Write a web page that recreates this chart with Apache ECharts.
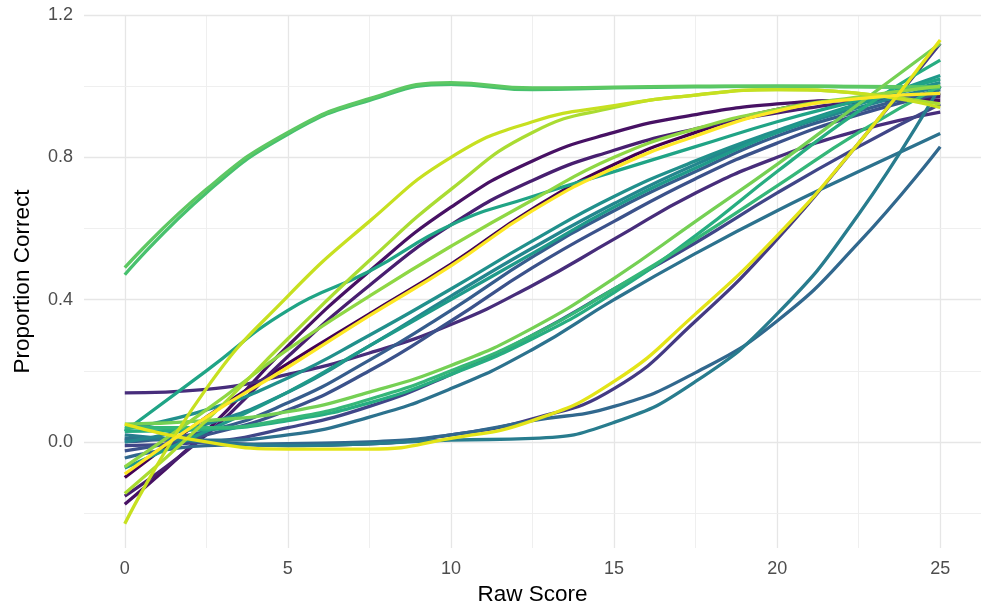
<!DOCTYPE html>
<html>
<head>
<meta charset="utf-8">
<script src="https://cdn.jsdelivr.net/npm/echarts@6/dist/echarts.min.js"></script>
<style>
  html, body { margin: 0; padding: 0; background: #ffffff; }
  #chart { width: 981px; height: 613px; }
</style>
</head>
<body>
<div id="chart"></div>
<script>
// Raw score positions at which each item's smoothed proportion correct is sampled
const rawScores = [0, 2.5, 5, 7.5, 10, 12.5, 15, 17.5, 20, 22.5, 25];

// Smoothed proportion-correct curves, one per item
const item01 = [-0.10, 0.07, 0.22, 0.36, 0.50, 0.655, 0.78, 0.87, 0.935, 0.965, 0.975];
const item02 = [-0.175, 0.03, 0.27, 0.48, 0.66, 0.79, 0.87, 0.92, 0.95, 0.96, 0.96];
const item03 = [-0.152, 0.02, 0.24, 0.44, 0.61, 0.735, 0.82, 0.88, 0.925, 0.955, 0.97];
const item04 = [0.138, 0.148, 0.19, 0.25, 0.33, 0.44, 0.57, 0.70, 0.80, 0.875, 0.927];
const item05 = [0.01, 0.0, -0.01, -0.005, 0.02, 0.065, 0.15, 0.34, 0.57, 0.84, 1.12];
const item06 = [-0.01, 0.0, 0.04, 0.10, 0.19, 0.30, 0.43, 0.56, 0.70, 0.83, 0.95];
const item07 = [-0.025, 0.02, 0.09, 0.20, 0.34, 0.49, 0.62, 0.74, 0.84, 0.92, 0.98];
const item08 = [0.0, 0.03, 0.11, 0.23, 0.37, 0.52, 0.65, 0.76, 0.86, 0.93, 0.99];
const item09 = [-0.045, -0.01, -0.005, 0.0, 0.02, 0.06, 0.10, 0.195, 0.34, 0.56, 0.83];
const item10 = [0.01, 0.005, 0.02, 0.07, 0.15, 0.26, 0.40, 0.53, 0.65, 0.76, 0.867];
const item11 = [0.02, 0.0, -0.01, -0.005, 0.005, 0.01, 0.055, 0.17, 0.36, 0.64, 1.0];
const item12 = [0.0, 0.05, 0.14, 0.27, 0.41, 0.545, 0.67, 0.78, 0.87, 0.94, 1.0];
const item13 = [0.037, 0.09, 0.18, 0.30, 0.43, 0.565, 0.69, 0.79, 0.875, 0.95, 1.01];
const item14 = [-0.073, 0.03, 0.14, 0.27, 0.40, 0.53, 0.66, 0.77, 0.87, 0.95, 1.03];
const item15 = [0.03, 0.20, 0.37, 0.48, 0.61, 0.69, 0.76, 0.83, 0.90, 0.96, 1.02];
const item16 = [0.03, 0.035, 0.06, 0.11, 0.19, 0.29, 0.42, 0.58, 0.76, 0.93, 1.073];
const item17 = [0.04, 0.04, 0.065, 0.12, 0.20, 0.30, 0.43, 0.57, 0.72, 0.87, 1.0];
const item18 = [0.47, 0.70, 0.865, 0.96, 1.005, 0.99, 0.995, 0.998, 1.0, 0.998, 0.995];
const item19 = [0.49, 0.71, 0.87, 0.965, 1.01, 0.995, 0.997, 1.0, 1.0, 0.999, 0.998];
const item20 = [0.05, 0.06, 0.085, 0.14, 0.215, 0.32, 0.46, 0.62, 0.78, 0.95, 1.12];
const item21 = [-0.07, 0.09, 0.26, 0.41, 0.55, 0.68, 0.80, 0.88, 0.935, 0.97, 1.0];
const item22 = [-0.145, 0.06, 0.29, 0.51, 0.71, 0.87, 0.94, 0.975, 0.99, 0.98, 0.95];
const item23 = [-0.23, 0.15, 0.41, 0.62, 0.80, 0.90, 0.945, 0.975, 0.99, 0.98, 0.94];
const item24 = [0.05, 0.0, -0.02, -0.02, 0.01, 0.06, 0.17, 0.36, 0.58, 0.84, 1.13];
const item25 = [-0.09, 0.07, 0.21, 0.355, 0.495, 0.65, 0.77, 0.86, 0.93, 0.965, 0.98];

const items = [item01, item02, item03, item04, item05, item06, item07, item08, item09, item10,
               item11, item12, item13, item14, item15, item16, item17, item18, item19, item20,
               item21, item22, item23, item24, item25];

// Tick labels and grid positions
const xTicks = [0, 5, 10, 15, 20, 25];
const xMinor = [2.5, 7.5, 12.5, 17.5, 22.5];
const yTicks = [0, 0.4, 0.8, 1.2];
const yMinor = [-0.2, 0.2, 0.6, 1.0];

// viridis palette, one colour per item
const viridis = ['#440154', '#471164', '#481F70', '#472D7B', '#443A83', '#404688', '#3B528B',
                 '#365D8D', '#31688E', '#2C728E', '#287C8E', '#24868E', '#21908C', '#1F9A8A',
                 '#20A486', '#27AD81', '#35B779', '#47C16E', '#5DC863', '#75D054', '#8FD744',
                 '#AADC32', '#C7E020', '#E3E418', '#FDE725'];

const gridLines = [];
xTicks.forEach(v => gridLines.push({ xAxis: v, lineStyle: { width: 1.3, color: '#E6E6E6' } }));
xMinor.forEach(v => gridLines.push({ xAxis: v, lineStyle: { width: 0.9, color: '#EDEDED' } }));
yTicks.forEach(v => gridLines.push({ yAxis: v, lineStyle: { width: 1.3, color: '#E6E6E6' } }));
yMinor.forEach(v => gridLines.push({ yAxis: v, lineStyle: { width: 0.9, color: '#EDEDED' } }));

// Background panel grid drawn beneath the curves
const series = [{
  type: 'line',
  data: [],
  silent: true,
  z: 0,
  markLine: {
    silent: true,
    z: 0,
    symbol: ['none', 'none'],
    label: { show: false },
    animation: false,
    lineStyle: { type: 'solid' },
    emphasis: { disabled: true },
    data: gridLines
  }
}];

items.forEach((vals, i) => {
  series.push({
    type: 'line',
    name: 'Item ' + (i + 1),
    data: rawScores.map((x, k) => [x, vals[k]]),
    smooth: 0.5,
    showSymbol: false,
    symbol: 'none',
    z: 10,
    lineStyle: { color: viridis[i], width: 3.3, cap: 'butt', join: 'round' },
    itemStyle: { color: viridis[i] },
    emphasis: { disabled: true }
  });
});

const font = 'Liberation Sans, Arial, Helvetica, sans-serif';

const chart = echarts.init(document.getElementById('chart'), null, { renderer: 'canvas' });
chart.setOption({
  animation: false,
  backgroundColor: '#ffffff',
  grid: { left: 84, right: -5, top: 15, bottom: 65, containLabel: false },
  xAxis: {
    type: 'value',
    min: -1.25,
    max: 26.25,
    name: 'Raw Score',
    nameLocation: 'middle',
    nameGap: 35,
    nameTextStyle: { color: '#000000', fontSize: 22.5, fontFamily: font },
    axisLine: { show: false },
    axisTick: { show: false },
    splitLine: { show: false },
    axisLabel: {
      customValues: xTicks,
      margin: 12,
      color: '#4D4D4D',
      fontSize: 18,
      fontFamily: font,
      formatter: v => String(v)
    }
  },
  yAxis: {
    type: 'value',
    min: -0.298,
    max: 1.2,
    name: 'Proportion Correct',
    nameLocation: 'middle',
    nameGap: 50,
    nameRotate: 90,
    nameTextStyle: { color: '#000000', fontSize: 22.5, fontFamily: font },
    axisLine: { show: false },
    axisTick: { show: false },
    splitLine: { show: false },
    axisLabel: {
      customValues: yTicks,
      margin: 11,
      color: '#4D4D4D',
      fontSize: 18,
      fontFamily: font,
      formatter: v => v.toFixed(1)
    }
  },
  series: series
});
</script>
</body>
</html>
